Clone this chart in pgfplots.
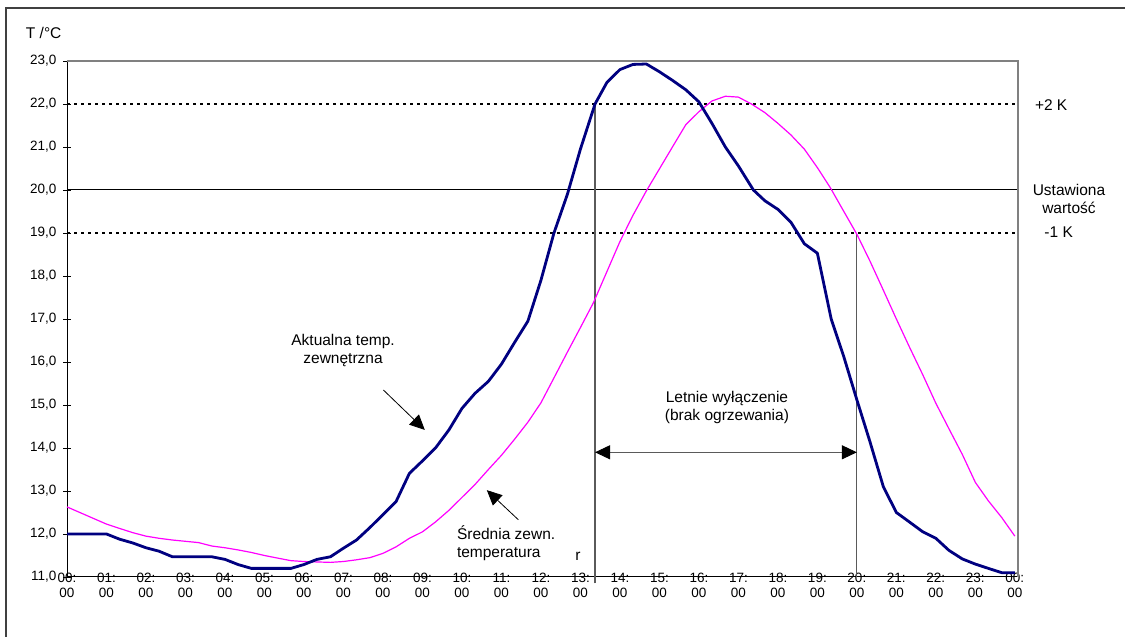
\documentclass[border=0pt]{standalone}
\usepackage{pgfplots}
\pgfplotsset{compat=1.18}
\usepackage{fontspec}
\setmainfont{Liberation Sans}
\usetikzlibrary{arrows.meta}

\definecolor{navyline}{RGB}{0,0,128}
\definecolor{magline}{RGB}{255,0,255}
\definecolor{bordergray}{RGB}{128,128,128}
\definecolor{vlinegray}{RGB}{90,90,90}
\definecolor{framegray}{RGB}{64,64,64}

\newcommand{\annofont}{\fontsize{15.5bp}{18bp}\selectfont}
\newcommand{\tickfont}{\fontsize{13.5bp}{15bp}\selectfont}

\begin{document}
\begin{tikzpicture}
\useasboundingbox (0,0) rectangle (1125bp,637bp);
\draw[line width=1.5bp, framegray] (6bp,0) -- (6bp,629bp) -- (1125bp,629bp);
\begin{axis}[
  at={(67bp,60bp)}, anchor=south west, scale only axis,
  width=951bp, height=516bp,
  xmin=0, xmax=24.08, ymin=11, ymax=23,
  axis lines=left, axis line style={-, black, line width=1bp},
  clip=false,
  xtick={0,...,24},
  xticklabels={{00:\\00},{01:\\00},{02:\\00},{03:\\00},{04:\\00},{05:\\00},{06:\\00},{07:\\00},{08:\\00},{09:\\00},{10:\\00},{11:\\00},{12:\\00},{13:\\00},{14:\\00},{15:\\00},{16:\\00},{17:\\00},{18:\\00},{19:\\00},{20:\\00},{21:\\00},{22:\\00},{23:\\00},{00:\\00}},
  x tick style={draw=none},
  xticklabel style={align=center, font=\tickfont, yshift=11bp},
  ytick={11,12,...,23},
  y tick style={black, line width=0.8bp},
  tick align=center, major tick length=8bp,
  yticklabel style={font=\tickfont, xshift=-3bp},
  /pgf/number format/.cd, fixed, fixed zerofill, precision=1, use comma, assume math mode=true,
]
% reference lines
\addplot[black, line width=1bp] coordinates {(0,20) (24.08,20)};
\addplot[black, line width=2bp, dash pattern=on 3bp off 4bp] coordinates {(0,22) (24.08,22)};
\addplot[black, line width=2bp, dash pattern=on 3bp off 4bp] coordinates {(0,19) (24.08,19)};
\addplot[vlinegray, line width=1.2bp] coordinates {(13.37,10.85) (13.37,22)};
\addplot[vlinegray, line width=1.2bp] coordinates {(20,11) (20,19)};
\draw[bordergray, line width=1.2bp] (rel axis cs:0,1) -- (rel axis cs:1,1) -- (rel axis cs:1,0);

% average outdoor temperature
\addplot[magline, line width=1.2bp, no marks] coordinates {
(0,12.63) (0.5,12.43) (1,12.23) (1.33,12.13) (1.67,12.03) (2,11.95) (2.33,11.9) (2.67,11.86)
(3,11.83) (3.33,11.8) (3.67,11.72) (4,11.68) (4.33,11.63) (4.67,11.57) (5,11.5) (5.33,11.44)
(5.67,11.38) (6,11.36) (6.33,11.35) (6.67,11.34) (7,11.36) (7.33,11.4) (7.67,11.45) (8,11.55)
(8.33,11.7) (8.67,11.9) (9,12.05) (9.33,12.28) (9.67,12.55) (10,12.85) (10.33,13.15) (10.67,13.5)
(11,13.83) (11.33,14.2) (11.67,14.6) (12,15.05) (12.33,15.63) (12.67,16.23) (13,16.8) (13.33,17.38)
(13.67,18.1) (14,18.8) (14.33,19.41) (14.67,19.98) (15,20.49) (15.33,21.0) (15.67,21.52) (16,21.82)
(16.33,22.07) (16.67,22.18) (17,22.16) (17.33,22.0) (17.67,21.8) (18,21.55) (18.33,21.28) (18.67,20.95)
(19,20.52) (19.33,20.05) (19.67,19.5) (20,18.97) (20.33,18.35) (20.67,17.67) (21,17.0) (21.33,16.35)
(21.67,15.7) (22,15.04) (22.33,14.45) (22.67,13.85) (23,13.2) (23.33,12.77) (23.67,12.38) (24,11.95)
};

% actual outdoor temperature
\addplot[navyline, line width=2.8bp, no marks, line join=round] coordinates {
(0,12.0) (1,12.0) (1.33,11.88) (1.67,11.79) (2,11.68) (2.33,11.6) (2.67,11.47) (3,11.47)
(3.33,11.47) (3.67,11.47) (4,11.41) (4.33,11.29) (4.67,11.2) (5,11.2) (5.33,11.2) (5.67,11.2)
(6,11.29) (6.33,11.41) (6.67,11.47) (7,11.67) (7.33,11.86) (7.67,12.15) (8,12.45) (8.33,12.75)
(8.67,13.41) (9,13.7) (9.33,14.0) (9.67,14.42) (10,14.92) (10.33,15.27) (10.67,15.55) (11,15.95)
(11.33,16.45) (11.67,16.95) (12,17.9) (12.33,19.0) (12.67,19.9) (13,20.95) (13.37,22.0) (13.67,22.5)
(14,22.8) (14.33,22.92) (14.67,22.93) (15,22.75) (15.33,22.55) (15.67,22.33) (16,22.05) (16.33,21.55)
(16.67,21.0) (17,20.56) (17.38,20.0) (17.67,19.75) (18,19.55) (18.33,19.25) (18.67,18.75) (19,18.53)
(19.35,17.0) (19.67,16.12) (20,15.12) (20.33,14.15) (20.67,13.1) (21,12.5) (21.33,12.28) (21.67,12.05)
(22,11.9) (22.33,11.62) (22.67,11.42) (23,11.3) (23.33,11.2) (23.67,11.1) (24,11.1)
};

% annotations
\draw[{Triangle[length=15bp,width=14bp,color=black]}-{Triangle[length=15bp,width=14bp,color=black]}, line width=1bp, vlinegray]
  (axis cs:13.37,13.9) -- (axis cs:20,13.9);
\draw[-{Triangle[length=15bp,width=14bp]}, line width=0.8bp, black]
  (axis cs:8.01,15.35) -- (axis cs:9.06,14.42);
\draw[-{Triangle[length=15bp,width=14bp]}, line width=0.8bp, black]
  (axis cs:11.43,12.33) -- (axis cs:10.63,13.02);

\node[font=\annofont, align=center] at (axis cs:6.99,16.26) {Aktualna temp.\\zewnętrzna};
\node[font=\annofont, align=left, anchor=west, inner sep=0pt] at (axis cs:9.87,11.78) {Średnia zewn.\\temperatura};
\node[font=\annofont, align=center] at (axis cs:16.71,14.95) {Letnie wyłączenie\\(brak ogrzewania)};
\node[font=\annofont] at (axis cs:12.94,11.49) {r};
\node[font=\annofont] at (axis cs:24.92,21.98) {+2 K};
\node[font=\annofont, align=center] at (axis cs:25.37,19.79) {Ustawiona\\wartość};
\node[font=\annofont] at (axis cs:25.11,19.03) {-1 K};
\node[font=\annofont] at (axis cs:-0.59,23.66) {T /°C};
\end{axis}
\end{tikzpicture}
\end{document}
